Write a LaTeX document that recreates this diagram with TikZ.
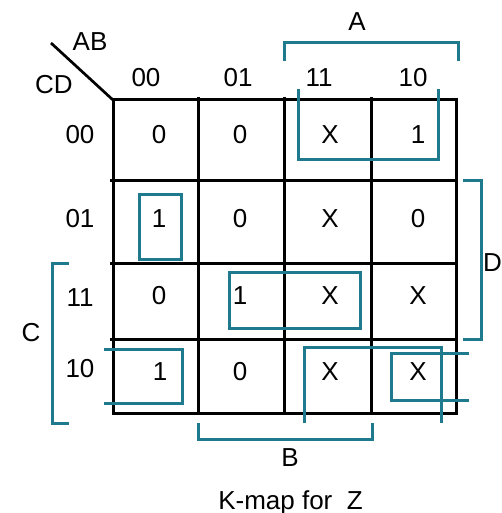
\documentclass[tikz,border=0pt]{standalone}
\usepackage{fontspec}
\setmainfont{Liberation Sans}
\definecolor{kteal}{RGB}{30,122,140}
\begin{document}
\begin{tikzpicture}[x=1pt,y=-1pt,
  lbl/.style={inner sep=0pt,anchor=base,font=\fontsize{26}{30}\selectfont},
  gridline/.style={line width=3pt,black},
  grp/.style={line width=3pt,kteal,line join=miter}]
\useasboundingbox (0,0) rectangle (502,513);
% grid
\draw[gridline] (113,100) rectangle (456,413);
\foreach \x in {198,284,371} \draw[gridline] (\x,97) -- (\x,413);
\foreach \y in {180,263,339} \draw[gridline] (110,\y) -- (456,\y);
% corner diagonal
\coordinate (dg1) at (51,43);
\coordinate (dg2) at (113,100);
\draw[line width=2.7pt] (dg1) -- (dg2);
\node[lbl] (ab) at (90,51) {AB};
\node[lbl] (cd) at (54,94) {CD};
% column labels
\node[lbl] (h0) at (146,87) {00};
\node[lbl] (h1) at (238,87) {01};
\node[lbl] (h2) at (319,87) {11};
\node[lbl] (h3) at (413,87) {10};
% row labels
\node[lbl] (r0) at (80,144) {00};
\node[lbl] (r1) at (80,227) {01};
\node[lbl] (r2) at (80,306) {11};
\node[lbl] (r3) at (80,377) {10};
% cells
\node[lbl] (c00) at (159,144) {0};
\node[lbl] (c01) at (240,144) {0};
\node[lbl] (c02) at (330,144) {X};
\node[lbl] (c03) at (418,144) {1};
\node[lbl] (c10) at (159,227) {1};
\node[lbl] (c11) at (240,227) {0};
\node[lbl] (c12) at (330,227) {X};
\node[lbl] (c13) at (418,227) {0};
\node[lbl] (c20) at (159,304) {0};
\node[lbl] (c21) at (240,304) {1};
\node[lbl] (c22) at (330,304) {X};
\node[lbl] (c23) at (418,304) {X};
\node[lbl] (c30) at (160,380) {1};
\node[lbl] (c31) at (240,380) {0};
\node[lbl] (c32) at (330,380) {X};
\node[lbl] (c33) at (418,380) {X};
% brackets
\draw[grp] (284,61) -- (284,43) -- (458,43) -- (458,61);
\node[lbl] (la) at (357,31) {A};
\draw[grp] (463,180) -- (481,180) -- (481,339) -- (463,339);
\node[lbl,anchor=base east] (ld) at (502,271) {D};
\draw[grp] (69,263) -- (52,263) -- (52,423) -- (69,423);
\node[lbl] (lc) at (31,341) {C};
\draw[grp] (198,423) -- (198,439) -- (372,439) -- (372,423);
\node[lbl] (lb) at (290,466) {B};
% groups
\draw[grp] (298,89) -- (298,159) -- (438,159) -- (438,89);
\draw[grp] (139,194) rectangle (181,259);
\draw[grp] (104,349) -- (182,349) -- (182,403) -- (104,403);
\draw[grp] (229,272) rectangle (360,328);
\draw[grp] (304,423) -- (304,347) -- (441,347) -- (441,423);
\draw[grp] (469,353) -- (391,353) -- (391,400) -- (469,400);
% title
\node[lbl] (title) at (290.5,509) {K-map for\ \ Z};
\end{tikzpicture}
\end{document}
